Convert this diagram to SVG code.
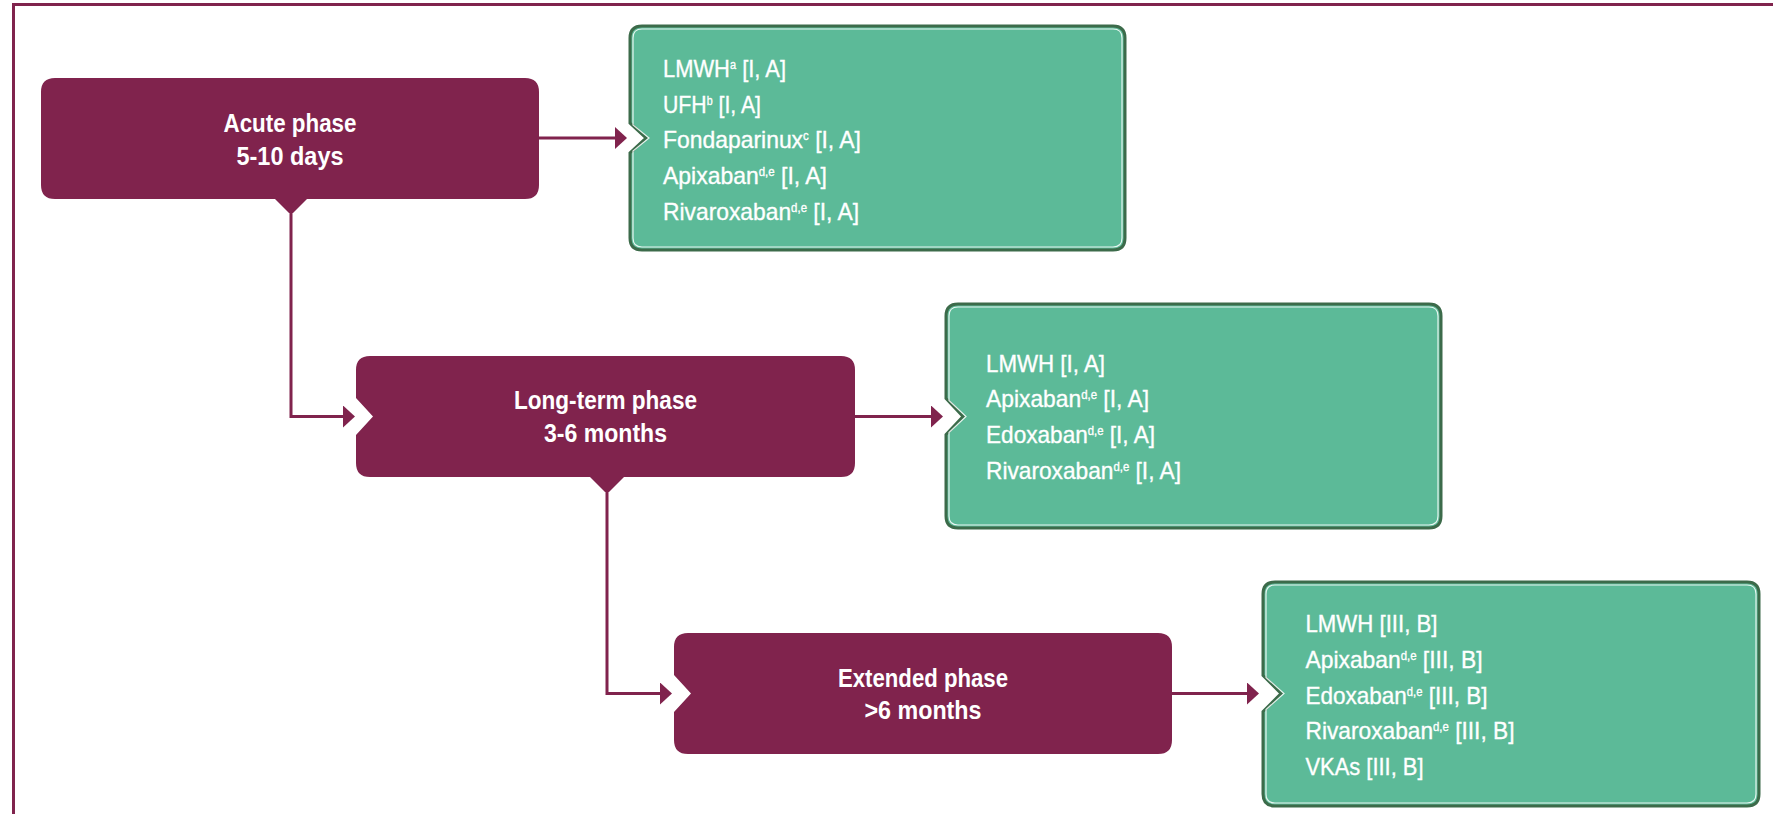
<svg xmlns="http://www.w3.org/2000/svg" width="1773" height="814" viewBox="0 0 1773 814">
<style>
.ph { fill: #80234d; }
.pt { font-family: "Liberation Sans", Arial, sans-serif; font-weight: bold; font-size: 25px; fill: #ffffff; text-anchor: middle; }
.gb { fill: #5cba98; stroke: #3c6b4a; stroke-width: 3; }
.gi { fill: none; stroke: #ffffff; stroke-width: 1.2; opacity: 0.85; }
.gt { font-family: "Liberation Sans", Arial, sans-serif; font-size: 24px; fill: #ffffff; stroke: #ffffff; stroke-width: 0.35; }
.sup { font-size: 12px; }
.conn { fill: none; stroke: #80234d; stroke-width: 3; marker-end: url(#arrow); }
.frame { fill: none; stroke: #80234d; stroke-width: 3; }
</style>
<defs>
<marker id="arrow" viewBox="0 0 12 22" refX="6" refY="11" markerWidth="12" markerHeight="22" markerUnits="userSpaceOnUse" orient="auto">
<path d="M0,0 L12,11 L0,22 Z" fill="#80234d"/>
</marker>
</defs>
<rect width="1773" height="814" fill="#ffffff"/>
<path class="frame" d="M13.5,814 V4.5 H1773"/>

<g id="connectors">
<path class="conn" d="M539,138 H621"/>
<path class="conn" d="M291,214 V416.5 H349"/>
<path class="conn" d="M855,416.5 H937"/>
<path class="conn" d="M607,493 V693.5 H666"/>
<path class="conn" d="M1172,693.5 H1253"/>
</g>

<g id="acute">
<path class="ph" d="M55,78 H525 Q539,78 539,92 V185 Q539,199 525,199 H307 L291,215 L275,199 H55 Q41,199 41,185 V92 Q41,78 55,78 Z"/>
<text class="pt" x="290" y="132" textLength="133" lengthAdjust="spacingAndGlyphs">Acute phase</text>
<text class="pt" x="290" y="165" textLength="107" lengthAdjust="spacingAndGlyphs">5-10 days</text>
</g>

<g id="longterm">
<path class="ph" d="M370,356 H841 Q855,356 855,370 V463 Q855,477 841,477 H624 L607,494 L590,477 H370 Q356,477 356,463 V435 L373,416.5 L356,398 V370 Q356,356 370,356 Z"/>
<text class="pt" x="605.5" y="409" textLength="183" lengthAdjust="spacingAndGlyphs">Long-term phase</text>
<text class="pt" x="605.5" y="442" textLength="123" lengthAdjust="spacingAndGlyphs">3-6 months</text>
</g>

<g id="extended">
<path class="ph" d="M688,633 H1158 Q1172,633 1172,647 V740 Q1172,754 1158,754 H688 Q674,754 674,740 V712 L691,693.5 L674,675 V647 Q674,633 688,633 Z"/>
<text class="pt" x="923" y="687" textLength="170" lengthAdjust="spacingAndGlyphs">Extended phase</text>
<text class="pt" x="923" y="719" textLength="117" lengthAdjust="spacingAndGlyphs">&gt;6 months</text>
</g>

<g id="acute-drugs">
<path class="gb" d="M642,26 H1113 Q1125,26 1125,38 V238 Q1125,250 1113,250 H642 Q630,250 630,238 V153 L646,138 L630,123 V38 Q630,26 642,26 Z"/>
<path class="gi" d="M642,29 H1113 Q1122,29 1122,38 V238 Q1122,247 1113,247 H642 Q633,247 633,238 V151 L649,138 L633,125 V38 Q633,29 642,29 Z"/>
<text class="gt" x="663" y="77" textLength="123" lengthAdjust="spacingAndGlyphs">LMWH<tspan class="sup" dy="-8">a</tspan><tspan dy="8"> [I, A]</tspan></text>
<text class="gt" x="663" y="113" textLength="98" lengthAdjust="spacingAndGlyphs">UFH<tspan class="sup" dy="-8">b</tspan><tspan dy="8"> [I, A]</tspan></text>
<text class="gt" x="663" y="148" textLength="198" lengthAdjust="spacingAndGlyphs">Fondaparinux<tspan class="sup" dy="-8">c</tspan><tspan dy="8"> [I, A]</tspan></text>
<text class="gt" x="663" y="184" textLength="164" lengthAdjust="spacingAndGlyphs">Apixaban<tspan class="sup" dy="-8">d,e</tspan><tspan dy="8"> [I, A]</tspan></text>
<text class="gt" x="663" y="220" textLength="196" lengthAdjust="spacingAndGlyphs">Rivaroxaban<tspan class="sup" dy="-8">d,e</tspan><tspan dy="8"> [I, A]</tspan></text>
</g>

<g id="longterm-drugs">
<path class="gb" d="M958,304 H1429 Q1441,304 1441,316 V516 Q1441,528 1429,528 H958 Q946,528 946,516 V434.5 L963,416.5 L946,398.5 V316 Q946,304 958,304 Z"/>
<path class="gi" d="M958,307 H1429 Q1438,307 1438,316 V516 Q1438,525 1429,525 H958 Q949,525 949,516 V432.5 L966,416.5 L949,400.5 V316 Q949,307 958,307 Z"/>
<text class="gt" x="986" y="372" textLength="119" lengthAdjust="spacingAndGlyphs">LMWH [I, A]</text>
<text class="gt" x="986" y="407" textLength="163" lengthAdjust="spacingAndGlyphs">Apixaban<tspan class="sup" dy="-8">d,e</tspan><tspan dy="8"> [I, A]</tspan></text>
<text class="gt" x="986" y="443" textLength="169" lengthAdjust="spacingAndGlyphs">Edoxaban<tspan class="sup" dy="-8">d,e</tspan><tspan dy="8"> [I, A]</tspan></text>
<text class="gt" x="986" y="479" textLength="195" lengthAdjust="spacingAndGlyphs">Rivaroxaban<tspan class="sup" dy="-8">d,e</tspan><tspan dy="8"> [I, A]</tspan></text>
</g>

<g id="extended-drugs">
<path class="gb" d="M1275,582 H1747 Q1759,582 1759,594 V794 Q1759,806 1747,806 H1275 Q1263,806 1263,794 V711.5 L1281,693.5 L1263,675.5 V594 Q1263,582 1275,582 Z"/>
<path class="gi" d="M1275,585 H1747 Q1756,585 1756,594 V794 Q1756,803 1747,803 H1275 Q1266,803 1266,794 V709.5 L1284,693.5 L1266,677.5 V594 Q1266,585 1275,585 Z"/>
<text class="gt" x="1305.5" y="632" textLength="132" lengthAdjust="spacingAndGlyphs">LMWH [III, B]</text>
<text class="gt" x="1305.5" y="668" textLength="177" lengthAdjust="spacingAndGlyphs">Apixaban<tspan class="sup" dy="-8">d,e</tspan><tspan dy="8"> [III, B]</tspan></text>
<text class="gt" x="1305.5" y="703.5" textLength="182" lengthAdjust="spacingAndGlyphs">Edoxaban<tspan class="sup" dy="-8">d,e</tspan><tspan dy="8"> [III, B]</tspan></text>
<text class="gt" x="1305.5" y="739" textLength="209" lengthAdjust="spacingAndGlyphs">Rivaroxaban<tspan class="sup" dy="-8">d,e</tspan><tspan dy="8"> [III, B]</tspan></text>
<text class="gt" x="1305.5" y="775" textLength="118" lengthAdjust="spacingAndGlyphs">VKAs [III, B]</text>
</g>
</svg>
